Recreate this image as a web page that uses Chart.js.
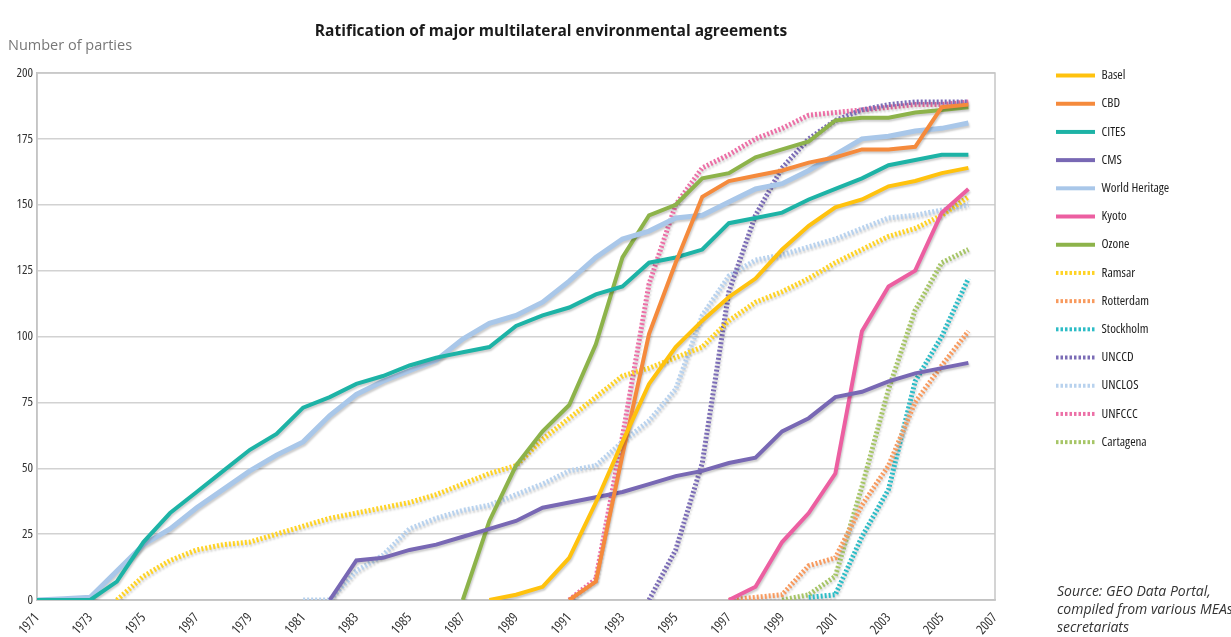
<!DOCTYPE html>
<html>
<head>
<meta charset="utf-8">
<title>Ratification of major multilateral environmental agreements</title>
<script src="https://cdn.jsdelivr.net/npm/chart.js"></script>
<style>
  html, body { margin: 0; padding: 0; background: #fff; overflow: hidden; }
  #wrap { position: relative; width: 1231px; height: 637px; overflow: hidden; }
  #title { position: absolute; left: 0; width: 1102px; top: 19px; text-align: center;
           font: 700 15.5px 'Open Sans', Lato, sans-serif; color: #1a1a1a; }
  #ytitle { position: absolute; left: 8px; top: 35px; font: 14.5px 'Open Sans', Lato, sans-serif; color: #777; }
  #source { position: absolute; left: 1057px; top: 582px; white-space: nowrap;
            font: italic 14px 'Open Sans', Lato, sans-serif; color: #333; line-height: 18px; }
</style>
</head>
<body>
<div id="wrap">
  <canvas id="chart" width="1231" height="637"></canvas>
  <div id="title">Ratification of major multilateral environmental agreements</div>
  <div id="ytitle">Number of parties</div>
  <div id="source">Source: GEO Data Portal,<br>compiled from various MEAs<br>secretariats</div>
</div>
<script>
// categories on the x axis (one per year) and the labels shown on every other tick
const years = [1971, 1972, 1973, 1974, 1975, 1976, 1977, 1978, 1979, 1980, 1981, 1982, 1983,
  1984, 1985, 1986, 1987, 1988, 1989, 1990, 1991, 1992, 1993, 1994, 1995, 1996, 1997, 1998,
  1999, 2000, 2001, 2002, 2003, 2004, 2005, 2006, 2007];
const tickLabels = ['1971', '1973', '1975', '1997', '1979', '1981', '1983', '1985', '1987', '1989',
  '1991', '1993', '1995', '1997', '1999', '2001', '2003', '2005', '2007'];

// number of parties per year, each series starts at its first year
const baselStart = 1988;
const basel = [0, 2, 5, 16, 37, 60, 82, 96, 106, 115, 122, 133, 142, 149, 152, 157, 159, 162, 164];
const cbdStart = 1991;
const cbd = [0, 7, 55, 101, 128, 153, 159, 161, 163, 166, 168, 171, 171, 172, 187, 188];
const citesStart = 1971;
const cites = [0, 0, 0, 7, 22, 33, 41, 49, 57, 63, 73, 77, 82, 85, 89, 92, 94, 96, 104, 108, 111,
  116, 119, 128, 130, 133, 143, 145, 147, 152, 156, 160, 165, 167, 169, 169];
const cmsStart = 1982;
const cms = [0, 15, 16, 19, 21, 24, 27, 30, 35, 37, 39, 41, 44, 47, 49, 52, 54, 64, 69, 77, 79, 83,
  86, 88, 90];
const worldHeritageStart = 1971;
const worldHeritage = [0, 0.5, 1, 11, 21, 27, 35, 42, 49, 55, 60, 70, 78, 83, 87, 91, 99, 105, 108,
  113, 121, 130, 137, 140, 145, 146, 151, 156, 158, 163, 169, 175, 176, 178, 179, 181];
const kyotoStart = 1997;
const kyoto = [0, 5, 22, 33, 48, 102, 119, 125, 147, 156];
const ozoneStart = 1987;
const ozone = [0, 30, 51, 64, 74, 97, 130, 146, 150, 160, 162, 168, 171, 174, 182, 183, 183, 185, 186, 187];
const ramsarStart = 1974;
const ramsar = [0, 9, 15, 19, 21, 22, 25, 28, 31, 33, 35, 37, 40, 44, 48, 51, 61, 69, 77, 85, 88, 92,
  96, 106, 113, 117, 122, 128, 133, 138, 141, 146, 153];
const rotterdamStart = 1997;
const rotterdam = [0, 1, 2, 13, 16, 36, 51, 75, 89, 102];
const stockholmStart = 2000;
const stockholm = [1, 2, 24, 42, 83, 100, 122];
const unccdStart = 1994;
const unccd = [0, 19, 52, 117, 146, 164, 175, 182, 186, 188, 189, 189, 189];
const unclosStart = 1981;
const unclos = [0, 0, 11, 17, 27, 31, 34, 36, 40, 44, 49, 51, 60, 68, 80, 108, 123, 129, 131, 134,
  137, 141, 145, 146, 148, 150];
const unfcccStart = 1991;
const unfccc = [0, 8, 62, 120, 150, 164, 169, 175, 179, 184, 185, 186, 187, 188, 188, 189];
const cartagenaStart = 1999;
const cartagena = [0, 2, 9, 43, 80, 110, 128, 133];

// pick the narrowest installed face for the small labels (the original uses a condensed font)
function pickNarrowFont() {
  const ctx = document.createElement('canvas').getContext('2d');
  const sample = 'World Heritage 1995';
  ctx.font = '12px monospace';
  const mono = ctx.measureText(sample).width;
  const candidates = [
    { family: "'Liberation Sans Narrow'", weight: 'normal' },
    { family: "'DejaVu Sans Condensed'", weight: 'normal' },
    { family: "'Noto Sans'", weight: 'normal condensed' },
    { family: "'Open Sans'", weight: 'normal condensed' },
    { family: "Roboto", weight: 'normal condensed' },
    { family: "'Liberation Sans'", weight: 'normal' }
  ];
  let best = null;
  candidates.forEach(c => {
    ctx.font = c.weight + ' 12px ' + c.family + ', monospace';
    const w = ctx.measureText(sample).width;
    if (Math.abs(w - mono) < 0.01) return; // not installed
    if (!best || w < best.w - 0.5) best = { family: c.family, weight: c.weight, w };
  });
  return best || { family: 'sans-serif', weight: 'normal' };
}
const narrow = pickNarrowFont();
const FONT = narrow.family + ', sans-serif';
const WEIGHT = narrow.weight;

// put a series on the year axis, null before it starts
function onYears(start, values) {
  return years.map(y => {
    const i = y - start;
    return i >= 0 && i < values.length ? values[i] : null;
  });
}

function solid(label, start, values, color, width) {
  return { label, data: onYears(start, values), borderColor: color, backgroundColor: color,
    borderWidth: width || 4, pointRadius: 0, tension: 0, fill: false };
}
function dotted(label, start, values, color) {
  return { label, data: onYears(start, values), borderColor: color, backgroundColor: color,
    borderWidth: 5, borderDash: [2, 2], pointRadius: 0, tension: 0, fill: false };
}

const datasets = [
  solid('Basel', baselStart, basel, '#ffc20e'),
  solid('CBD', cbdStart, cbd, '#f58a3c'),
  solid('CITES', citesStart, cites, '#1db3a6'),
  solid('CMS', cmsStart, cms, '#7868b4'),
  solid('World Heritage', worldHeritageStart, worldHeritage, '#a9c7e9', 5),
  solid('Kyoto', kyotoStart, kyoto, '#ec5fa1'),
  solid('Ozone', ozoneStart, ozone, '#8db34a'),
  dotted('Ramsar', ramsarStart, ramsar, '#ffd324'),
  dotted('Rotterdam', rotterdamStart, rotterdam, '#f89a5e'),
  dotted('Stockholm', stockholmStart, stockholm, '#2cbcc6'),
  dotted('UNCCD', unccdStart, unccd, '#7b6cb6'),
  dotted('UNCLOS', unclosStart, unclos, '#b8d2ee'),
  dotted('UNFCCC', unfcccStart, unfccc, '#ec6fa6'),
  dotted('Cartagena', cartagenaStart, cartagena, '#a6c566')
];

// small line sample for the legend, keeps the dash of the series
function legendSample(ds) {
  const c = document.createElement('canvas');
  c.width = 39;
  c.height = 6;
  const g = c.getContext('2d');
  g.strokeStyle = ds.borderColor;
  g.lineWidth = 4;
  if (ds.borderDash) g.setLineDash([2.5, 2]);
  g.beginPath();
  g.moveTo(0, 3);
  g.lineTo(39, 3);
  g.stroke();
  return c;
}

// soft shadow under every line
const lineShadow = {
  id: 'lineShadow',
  beforeDatasetDraw(chart) {
    const ctx = chart.ctx;
    ctx.save();
    ctx.shadowColor = 'rgba(0,0,0,0.2)';
    ctx.shadowBlur = 2;
    ctx.shadowOffsetX = 1;
    ctx.shadowOffsetY = 2;
  },
  afterDatasetDraw(chart) {
    chart.ctx.restore();
  }
};

// frame round the plot area
const areaBorder = {
  id: 'areaBorder',
  beforeDatasetsDraw(chart) {
    const { ctx, chartArea: a } = chart;
    ctx.save();
    ctx.strokeStyle = '#c6c6c6';
    ctx.lineWidth = 1.5;
    ctx.strokeRect(a.left, a.top, a.right - a.left, a.bottom - a.top);
    ctx.restore();
  }
};

// legend sits to the right of the plot, outside the chart area
const legendPlace = {
  id: 'legendPlace',
  afterLayout(chart) {
    const lg = chart.legend;
    const pad = lg.options.labels.padding;
    const w = lg.width, h = lg.height;
    lg.left = 1056 - pad;
    lg.top = 69 - pad;
    lg.right = lg.left + w;
    lg.bottom = lg.top + h;
  }
};

new Chart(document.getElementById('chart').getContext('2d'), {
  type: 'line',
  data: { labels: years, datasets: datasets },
  plugins: [lineShadow, areaBorder, legendPlace],
  options: {
    responsive: false,
    animation: false,
    layout: { padding: { top: 73, left: 0, right: 236, bottom: 0 } },
    plugins: {
      title: { display: false },
      tooltip: { enabled: false },
      legend: {
        position: 'chartArea',
        align: 'start',
        labels: {
          usePointStyle: true,
          pointStyleWidth: 39,
          padding: 15.2,
          color: '#1e1e1e',
          font: { family: FONT, weight: WEIGHT, size: 13 },
          generateLabels(chart) {
            const items = Chart.defaults.plugins.legend.labels.generateLabels(chart);
            items.forEach(item => {
              item.pointStyle = legendSample(chart.data.datasets[item.datasetIndex]);
            });
            return items;
          }
        }
      }
    },
    scales: {
      x: {
        type: 'category',
        offset: false,
        grid: { display: false },
        border: { display: true, color: '#bdbdbd', width: 1.5 },
        ticks: {
          autoSkip: false,
          minRotation: 48,
          maxRotation: 48,
          padding: 2,
          color: '#333',
          font: { family: FONT, weight: WEIGHT, size: 13.5 },
          callback: (value, index) => (index % 2 === 0 ? tickLabels[index / 2] : '')
        },
        afterFit(scale) { scale.height = 37; }
      },
      y: {
        min: 0,
        max: 200,
        grid: { color: '#d2d2d2', lineWidth: 1.5, drawTicks: false },
        border: { display: true, color: '#bdbdbd', width: 1.5 },
        ticks: {
          stepSize: 25,
          padding: 4,
          color: '#333',
          font: { family: FONT, weight: WEIGHT, size: 13 }
        },
        afterFit(scale) { scale.width = 37; }
      }
    }
  }
});
</script>
</body>
</html>
